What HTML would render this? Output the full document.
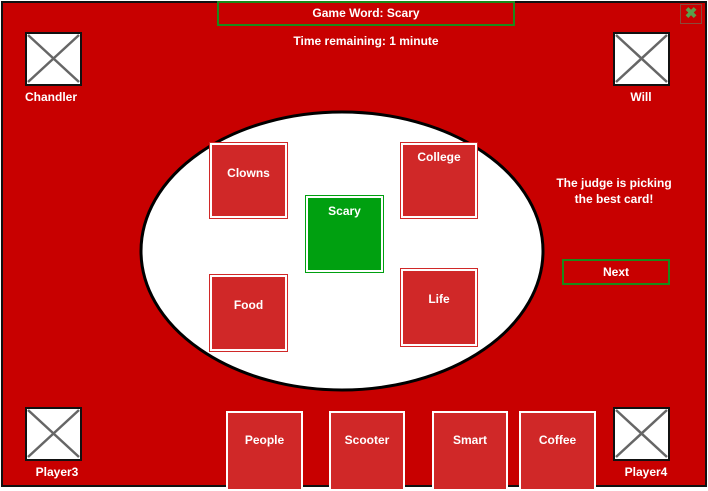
<!DOCTYPE html>
<html><head><meta charset="utf-8"><style>
*{margin:0;padding:0;box-sizing:border-box}
body{width:708px;height:489px;background:#fff;position:relative;overflow:hidden;font-family:"Liberation Sans",sans-serif;font-weight:bold;color:#fff}
.a{position:absolute}
.frame{left:1px;top:1px;width:706px;height:486px;background:#c80000;border:2px solid #111}
.ph{background:#fff;border:2px solid #111}
.lbl{font-size:12px;text-align:center;width:80px}
.card{background:#d02828;border:2px solid #fff;outline:1px solid #d02828;font-size:12px;text-align:center}
.bc{background:#d02828;border:2px solid #fff;font-size:12px;text-align:center;padding-top:20px}
</style></head><body>
<div class="a frame"></div>
<div class="a" style="left:217px;top:1px;width:298px;height:25px;border:2px solid #1a8a1a;font-size:12px;text-align:center;line-height:21px">Game Word: Scary</div>
<div class="a" style="left:217px;top:34px;width:298px;font-size:12px;text-align:center">Time remaining: 1 minute</div>
<div class="a" style="left:680px;top:4px;width:22px;height:20px;border:1px solid #8a4a3a;color:#5aa04a;font-size:15px;text-align:center;line-height:18px">✖</div>

<svg class="a" style="left:0;top:0" width="708" height="489">
<ellipse cx="342" cy="251" rx="201" ry="139" fill="#fff" stroke="#000" stroke-width="3"/>
<g stroke="#666" stroke-width="2.5" fill="none">
<path d="M28 35L79 82M79 35L28 82"/>
<path d="M617 35L667 82M667 35L617 82"/>
<path d="M28 410L79 457M79 410L28 457"/>
<path d="M617 410L667 457M667 410L617 457"/>
</g>
</svg>
<div class="a ph" style="left:25px;top:32px;width:57px;height:54px"></div>
<div class="a ph" style="left:613px;top:32px;width:57px;height:54px"></div>
<div class="a ph" style="left:25px;top:407px;width:57px;height:54px"></div>
<div class="a ph" style="left:613px;top:407px;width:57px;height:54px"></div>
<svg class="a" style="left:0;top:0" width="708" height="489">
<g stroke="#666" stroke-width="2.5" fill="none">
<path d="M28 35L79 82M79 35L28 82"/>
<path d="M616 35L667 82M667 35L616 82"/>
<path d="M28 410L79 457M79 410L28 457"/>
<path d="M616 410L667 457M667 410L616 457"/>
</g>
</svg>
<div class="a lbl" style="left:11px;top:90px">Chandler</div>
<div class="a lbl" style="left:601px;top:90px">Will</div>
<div class="a lbl" style="left:17px;top:465px">Player3</div>
<div class="a lbl" style="left:606px;top:465px">Player4</div>

<div class="a card" style="left:210px;top:143px;width:77px;height:75px;padding-top:21px">Clowns</div>
<div class="a card" style="left:401px;top:143px;width:76px;height:75px;padding-top:5px">College</div>
<div class="a card" style="left:210px;top:275px;width:77px;height:76px;padding-top:21px">Food</div>
<div class="a card" style="left:401px;top:269px;width:76px;height:77px;padding-top:21px">Life</div>
<div class="a card" style="left:306px;top:196px;width:77px;height:76px;padding-top:6px;background:#00a010;outline-color:#00a010">Scary</div>

<div class="a" style="left:540px;top:175px;width:148px;font-size:12px;text-align:center;line-height:16px">The judge is picking<br>the best card!</div>
<div class="a" style="left:562px;top:259px;width:108px;height:26px;border:2px solid #1a8a1a;font-size:12px;text-align:center;line-height:22px">Next</div>

<div class="a bc" style="left:226px;top:411px;width:77px;height:80px">People</div>
<div class="a bc" style="left:329px;top:411px;width:76px;height:80px">Scooter</div>
<div class="a bc" style="left:432px;top:411px;width:76px;height:80px">Smart</div>
<div class="a bc" style="left:519px;top:411px;width:77px;height:80px">Coffee</div>
</body></html>
